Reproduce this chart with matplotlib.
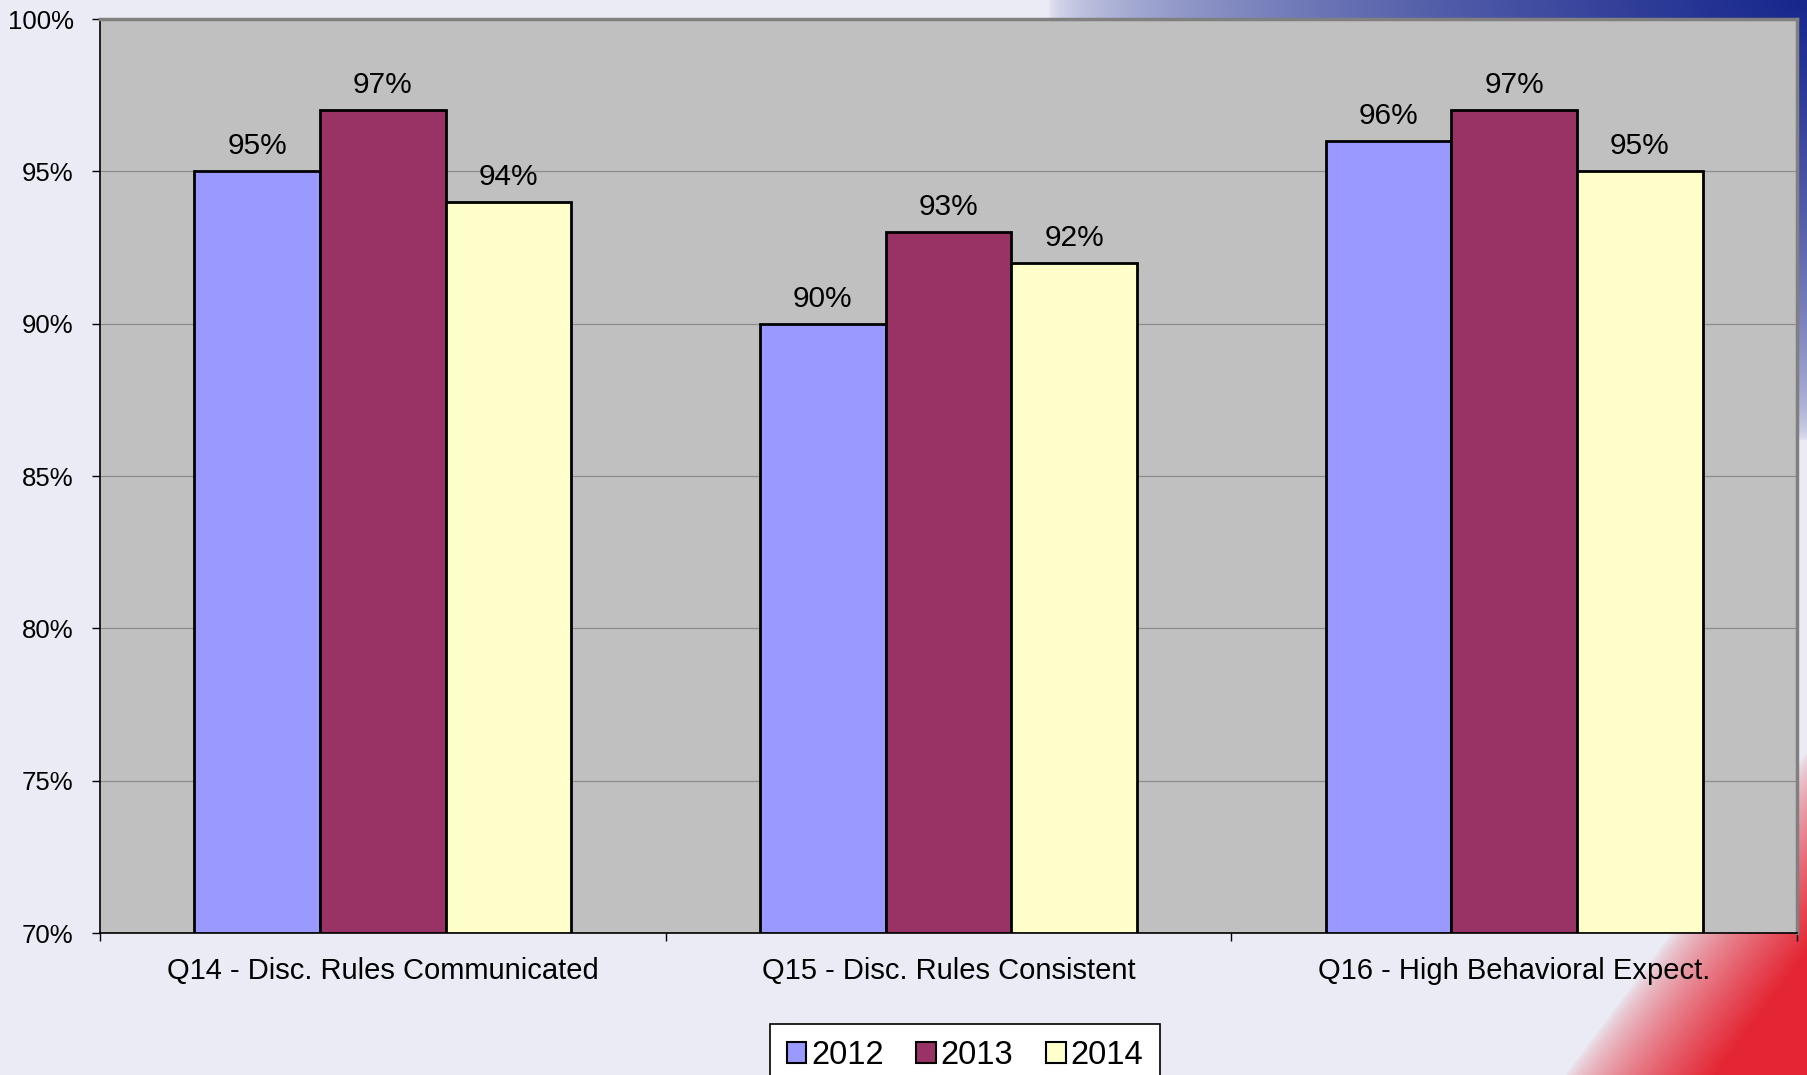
import numpy as np
import matplotlib
matplotlib.use("Agg")
import matplotlib.pyplot as plt
from matplotlib.patches import Patch

plt.rcParams['font.family'] = ['Liberation Sans', 'DejaVu Sans']

categories = ["Q14 - Disc. Rules Communicated", "Q15 - Disc. Rules Consistent", "Q16 - High Behavioral Expect."]
years = ["2012", "2013", "2014"]
v2012 = [95, 90, 96]
v2013 = [97, 93, 97]
v2014 = [94, 92, 95]
yticks = [70, 75, 80, 85, 90, 95, 100]
colors = ["#9999FF", "#993366", "#FFFFCC"]

W, H = 1808, 1075
fig = plt.figure(figsize=(W / 100, H / 100), dpi=100)

# background gradient
yy, xx = np.mgrid[0:H, 0:W].astype(float)
base = np.array([234, 235, 244]) / 255.0
img = np.ones((H, W, 3)) * base
# blue top-right
t = np.sqrt(((W - xx) / 760.0) ** 2 + (yy / 440.0) ** 2)
bi = np.clip(1 - t, 0, 1) ** 0.5
blue = np.array([22, 38, 140]) / 255.0
img = img * (1 - bi[..., None]) + blue * bi[..., None]
# red bottom-right
d = xx + 0.75 * yy
ri = np.clip((d - 2370) / 150.0, 0, 1) ** 0.7
red = np.array([228, 38, 52]) / 255.0
img = img * (1 - ri[..., None]) + red * ri[..., None]
bg = fig.add_axes([0, 0, 1, 1], zorder=-10)
bg.imshow(img, aspect='auto', extent=[0, 1, 0, 1])
bg.axis('off')

left, right, top, bottom = 100, 1797, 19, 933
ax = fig.add_axes([left / W, 1 - bottom / H, (right - left) / W, (bottom - top) / H])
ax.set_facecolor("#C0C0C0")

x = np.arange(len(categories))
w = 1 / 4.5
series = [v2012, v2013, v2014]
for i, (vals, c) in enumerate(zip(series, colors)):
    pos = x + (i - 1) * w
    ax.bar(pos, [v - 70 for v in vals], bottom=70, width=w, color=c,
           edgecolor='black', linewidth=2, zorder=3)
    for p, v in zip(pos, vals):
        ax.annotate(f"{v}%", (p, v), xytext=(0, 8), textcoords='offset points',
                    ha='center', va='bottom', fontsize=21.5, color='black')

ax.set_xlim(-0.5, 2.5)
ax.set_ylim(70, 100)
ax.set_yticks(yticks)
ax.set_yticklabels([f"{v}%" for v in yticks], fontsize=18.5)
ax.yaxis.grid(True, color='#8C8C8C', linewidth=0.9, zorder=0)
ax.set_axisbelow(True)
ax.set_xticks([-0.5, 0.5, 1.5, 2.5])
ax.set_xticklabels([])
ax.set_xticks(x, minor=True)
ax.set_xticklabels(categories, minor=True, fontsize=21)
ax.tick_params(axis='x', which='minor', length=0, pad=17)
ax.tick_params(axis='x', which='major', length=6, width=1, direction='out', color='black')
ax.tick_params(axis='y', length=6, width=1, direction='out', pad=13, color='black')
for s in ['left', 'bottom']:
    ax.spines[s].set_color('black')
    ax.spines[s].set_linewidth(1.2)
for s in ['top', 'right']:
    ax.spines[s].set_color('#808080')
    ax.spines[s].set_linewidth(2.5)

handles = [Patch(facecolor=c, edgecolor='black', linewidth=1.5, label=y) for c, y in zip(colors, years)]
leg = fig.legend(handles=handles, loc='upper center', bbox_to_anchor=(965 / W, 1 - 1024 / H),
                 ncol=3, fontsize=23.5, frameon=True, fancybox=False, framealpha=1,
                 edgecolor='black', handlelength=0.6, handleheight=0.6, handletextpad=0.15,
                 columnspacing=1.0, borderpad=0.5, borderaxespad=0)
leg.get_frame().set_linewidth(1.2)

fig.savefig("out.png", dpi=100)
